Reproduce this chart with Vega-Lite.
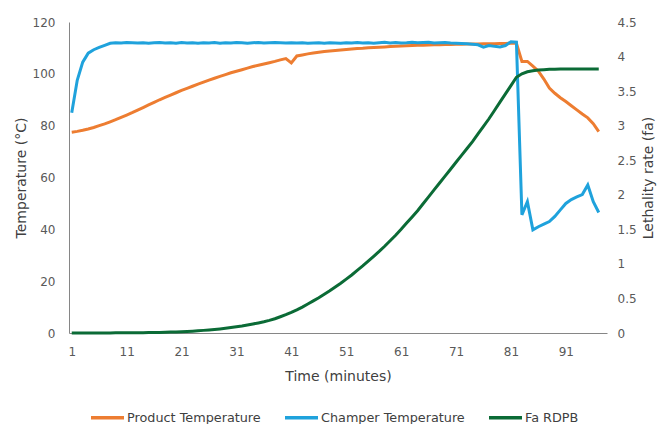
{
  "$schema": "https://vega.github.io/schema/vega-lite/v6.json",
  "width": 538,
  "height": 311,
  "autosize": {"type": "none"},
  "padding": {"left": 69, "top": 22, "right": 53, "bottom": 91},
  "background": "white",
  "config": {
    "view": {"stroke": null},
    "font": "DejaVu Sans",
    "axis": {"grid": false, "ticks": false, "domainColor": "#868686", "domainWidth": 1, "labelColor": "#595959", "titleColor": "#404040", "labelFontSize": 12, "titleFontSize": 14, "titleFontWeight": "normal"}
  },
  "data": {"values": [
    {"t":1,"product":77.5,"chamber":85.0,"fa":0},
    {"t":2,"product":77.8,"chamber":97.5,"fa":0},
    {"t":3,"product":78.2,"chamber":104.5,"fa":0},
    {"t":4,"product":78.7,"chamber":108.0,"fa":0},
    {"t":5,"product":79.3,"chamber":109.3,"fa":0.001},
    {"t":6,"product":80.0,"chamber":110.2,"fa":0.001},
    {"t":7,"product":80.7,"chamber":111.0,"fa":0.001},
    {"t":8,"product":81.5,"chamber":111.8,"fa":0.001},
    {"t":9,"product":82.3,"chamber":112.0,"fa":0.002},
    {"t":10,"product":83.2,"chamber":111.9,"fa":0.002},
    {"t":11,"product":84.1,"chamber":112.1,"fa":0.002},
    {"t":12,"product":85.0,"chamber":112.0,"fa":0.003},
    {"t":13,"product":86.0,"chamber":111.9,"fa":0.004},
    {"t":14,"product":87.0,"chamber":112.0,"fa":0.005},
    {"t":15,"product":88.0,"chamber":111.8,"fa":0.006},
    {"t":16,"product":89.0,"chamber":112.0,"fa":0.007},
    {"t":17,"product":90.0,"chamber":112.1,"fa":0.009},
    {"t":18,"product":90.9,"chamber":111.9,"fa":0.011},
    {"t":19,"product":91.8,"chamber":112.0,"fa":0.013},
    {"t":20,"product":92.7,"chamber":111.8,"fa":0.016},
    {"t":21,"product":93.6,"chamber":112.1,"fa":0.019},
    {"t":22,"product":94.4,"chamber":111.9,"fa":0.023},
    {"t":23,"product":95.2,"chamber":112.0,"fa":0.027},
    {"t":24,"product":96.0,"chamber":111.8,"fa":0.032},
    {"t":25,"product":96.8,"chamber":112.0,"fa":0.038},
    {"t":26,"product":97.6,"chamber":111.9,"fa":0.044},
    {"t":27,"product":98.3,"chamber":112.1,"fa":0.051},
    {"t":28,"product":99.0,"chamber":111.8,"fa":0.059},
    {"t":29,"product":99.7,"chamber":112.0,"fa":0.068},
    {"t":30,"product":100.4,"chamber":111.9,"fa":0.078},
    {"t":31,"product":101.0,"chamber":112.1,"fa":0.089},
    {"t":32,"product":101.6,"chamber":112.0,"fa":0.101},
    {"t":33,"product":102.2,"chamber":111.8,"fa":0.115},
    {"t":34,"product":102.8,"chamber":112.0,"fa":0.130},
    {"t":35,"product":103.3,"chamber":112.1,"fa":0.146},
    {"t":36,"product":103.8,"chamber":111.9,"fa":0.163},
    {"t":37,"product":104.3,"chamber":112.0,"fa":0.182},
    {"t":38,"product":104.8,"chamber":112.1,"fa":0.206},
    {"t":39,"product":105.4,"chamber":112.0,"fa":0.235},
    {"t":40,"product":105.9,"chamber":111.9,"fa":0.265},
    {"t":41,"product":104.2,"chamber":112.0,"fa":0.298},
    {"t":42,"product":106.9,"chamber":111.9,"fa":0.335},
    {"t":43,"product":107.3,"chamber":112.0,"fa":0.375},
    {"t":44,"product":107.7,"chamber":111.8,"fa":0.420},
    {"t":45,"product":108.0,"chamber":111.9,"fa":0.465},
    {"t":46,"product":108.3,"chamber":112.0,"fa":0.510},
    {"t":47,"product":108.6,"chamber":111.8,"fa":0.560},
    {"t":48,"product":108.8,"chamber":112.0,"fa":0.610},
    {"t":49,"product":109.0,"chamber":111.9,"fa":0.665},
    {"t":50,"product":109.2,"chamber":111.8,"fa":0.720},
    {"t":51,"product":109.4,"chamber":112.0,"fa":0.780},
    {"t":52,"product":109.6,"chamber":111.9,"fa":0.840},
    {"t":53,"product":109.8,"chamber":112.1,"fa":0.905},
    {"t":54,"product":109.9,"chamber":111.9,"fa":0.970},
    {"t":55,"product":110.1,"chamber":112.0,"fa":1.040},
    {"t":56,"product":110.2,"chamber":111.8,"fa":1.110},
    {"t":57,"product":110.3,"chamber":112.0,"fa":1.180},
    {"t":58,"product":110.4,"chamber":112.2,"fa":1.255},
    {"t":59,"product":110.5,"chamber":111.9,"fa":1.335},
    {"t":60,"product":110.6,"chamber":112.1,"fa":1.415},
    {"t":61,"product":110.7,"chamber":111.9,"fa":1.500},
    {"t":62,"product":110.8,"chamber":112.0,"fa":1.590},
    {"t":63,"product":110.9,"chamber":112.2,"fa":1.680},
    {"t":64,"product":111.0,"chamber":112.0,"fa":1.770},
    {"t":65,"product":111.0,"chamber":112.1,"fa":1.870},
    {"t":66,"product":111.1,"chamber":112.2,"fa":1.970},
    {"t":67,"product":111.2,"chamber":111.9,"fa":2.070},
    {"t":68,"product":111.2,"chamber":112.0,"fa":2.170},
    {"t":69,"product":111.3,"chamber":112.1,"fa":2.270},
    {"t":70,"product":111.3,"chamber":111.9,"fa":2.370},
    {"t":71,"product":111.4,"chamber":111.8,"fa":2.470},
    {"t":72,"product":111.4,"chamber":111.7,"fa":2.570},
    {"t":73,"product":111.5,"chamber":111.6,"fa":2.670},
    {"t":74,"product":111.5,"chamber":111.4,"fa":2.770},
    {"t":75,"product":111.5,"chamber":111.2,"fa":2.880},
    {"t":76,"product":111.6,"chamber":110.3,"fa":2.990},
    {"t":77,"product":111.6,"chamber":110.9,"fa":3.100},
    {"t":78,"product":111.6,"chamber":110.6,"fa":3.220},
    {"t":79,"product":111.7,"chamber":110.4,"fa":3.340},
    {"t":80,"product":111.7,"chamber":110.9,"fa":3.460},
    {"t":81,"product":111.8,"chamber":112.4,"fa":3.580},
    {"t":82,"product":111.8,"chamber":112.2,"fa":3.700},
    {"t":83,"product":104.8,"chamber":45.6,"fa":3.750},
    {"t":84,"product":104.8,"chamber":50.7,"fa":3.780},
    {"t":85,"product":103.0,"chamber":39.8,"fa":3.795},
    {"t":86,"product":101.0,"chamber":41.0,"fa":3.805},
    {"t":87,"product":98.0,"chamber":42.0,"fa":3.810},
    {"t":88,"product":94.5,"chamber":43.0,"fa":3.815},
    {"t":89,"product":92.5,"chamber":45.0,"fa":3.818},
    {"t":90,"product":90.8,"chamber":47.5,"fa":3.820},
    {"t":91,"product":89.3,"chamber":50.0,"fa":3.820},
    {"t":92,"product":87.7,"chamber":51.5,"fa":3.820},
    {"t":93,"product":86.1,"chamber":52.5,"fa":3.820},
    {"t":94,"product":84.5,"chamber":53.4,"fa":3.820},
    {"t":95,"product":83.0,"chamber":57.1,"fa":3.820},
    {"t":96,"product":80.8,"chamber":50.7,"fa":3.820},
    {"t":97,"product":77.7,"chamber":46.5,"fa":3.820}
  ]},
  "encoding": {
    "x": {
      "field": "t", "type": "quantitative",
      "scale": {"domain": [0.5, 98.5], "nice": false, "zero": false},
      "axis": {"values": [1, 11, 21, 31, 41, 51, 61, 71, 81, 91], "title": "Time (minutes)", "labelPadding": 13, "titlePadding": 12}
    }
  },
  "layer": [
    {
      "transform": [{"fold": ["product", "chamber"], "as": ["series", "value"]}],
      "mark": {"type": "line", "strokeWidth": 3},
      "encoding": {
        "y": {
          "field": "value", "type": "quantitative",
          "scale": {"domain": [0, 120], "nice": false},
          "axis": {"orient": "left", "values": [0, 20, 40, 60, 80, 100, 120], "title": "Temperature (°C)", "labelPadding": 14, "titlePadding": 4}
        },
        "color": {
          "field": "series", "type": "nominal",
          "scale": {"domain": ["product", "chamber", "fa"], "range": ["#ED7D31", "#1FA2DC", "#0B6B36"]},
          "legend": {
            "orient": "none", "legendX": 20, "legendY": 377, "direction": "horizontal", "title": null,
            "symbolType": "stroke", "symbolSize": 1089, "symbolStrokeWidth": 3.5,
            "labelFontSize": 12.8, "labelColor": "#404040", "labelOffset": 1, "columnPadding": 17,
            "labelExpr": "datum.label == 'product' ? 'Product Temperature' : datum.label == 'chamber' ? 'Champer Temperature' : 'Fa RDPB'"
          }
        }
      }
    },
    {
      "transform": [{"fold": ["fa"], "as": ["series", "value"]}],
      "mark": {"type": "line", "strokeWidth": 3},
      "encoding": {
        "y": {
          "field": "value", "type": "quantitative",
          "scale": {"domain": [0, 4.5], "nice": false},
          "axis": {"orient": "right", "values": [0, 0.5, 1, 1.5, 2, 2.5, 3, 3.5, 4, 4.5], "format": ".1~f", "domain": false, "title": "Lethality rate (fa)", "titleAngle": 270, "labelPadding": 10, "titlePadding": 19}
        },
        "color": {"field": "series", "type": "nominal"}
      }
    }
  ],
  "resolve": {"scale": {"y": "independent"}}
}
